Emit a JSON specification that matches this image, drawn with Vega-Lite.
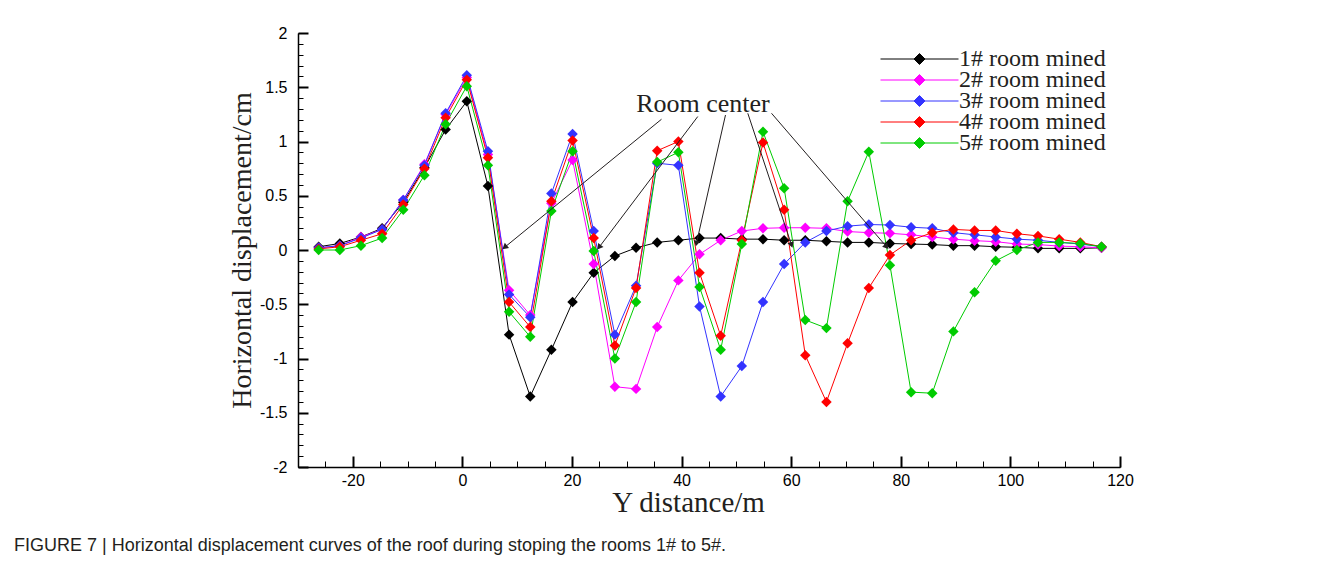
{
  "$schema": "https://vega.github.io/schema/vega-lite/v6.json",
  "width": 822,
  "height": 434,
  "autosize": {"type": "none"},
  "padding": {"left": 298, "top": 33, "right": 222, "bottom": 104},
  "background": "white",
  "config": {"view": {"stroke": null}},
  "title": {
    "text": "FIGURE 7 | Horizontal displacement curves of the roof during stoping the rooms 1# to 5#.",
    "orient": "bottom",
    "anchor": "start",
    "frame": "group",
    "dx": -284,
    "offset": 20,
    "font": "Liberation Sans",
    "fontSize": 18,
    "fontWeight": "normal",
    "color": "#231f20"
  },
  "datasets": {
    "curves": [
      {"x": -26.23, "1# room mined": 0.03, "2# room mined": 0.02, "3# room mined": 0.02, "4# room mined": 0.01, "5# room mined": 0.0},
      {"x": -22.37, "1# room mined": 0.06, "2# room mined": 0.04, "3# room mined": 0.04, "4# room mined": 0.03, "5# room mined": 0.0},
      {"x": -18.51, "1# room mined": 0.12, "2# room mined": 0.12, "3# room mined": 0.11, "4# room mined": 0.09, "5# room mined": 0.04},
      {"x": -14.65, "1# room mined": 0.2, "2# room mined": 0.19, "3# room mined": 0.19, "4# room mined": 0.15, "5# room mined": 0.11},
      {"x": -10.79, "1# room mined": 0.44, "2# room mined": 0.46, "3# room mined": 0.46, "4# room mined": 0.42, "5# room mined": 0.37},
      {"x": -6.93, "1# room mined": 0.76, "2# room mined": 0.79, "3# room mined": 0.78, "4# room mined": 0.75, "5# room mined": 0.69},
      {"x": -3.06, "1# room mined": 1.11, "2# room mined": 1.25, "3# room mined": 1.26, "4# room mined": 1.22, "5# room mined": 1.16},
      {"x": 0.8, "1# room mined": 1.37, "2# room mined": 1.59, "3# room mined": 1.61, "4# room mined": 1.57, "5# room mined": 1.51},
      {"x": 4.66, "1# room mined": 0.59, "2# room mined": 0.88, "3# room mined": 0.91, "4# room mined": 0.85, "5# room mined": 0.78},
      {"x": 8.52, "1# room mined": -0.78, "2# room mined": -0.37, "3# room mined": -0.41, "4# room mined": -0.48, "5# room mined": -0.57},
      {"x": 12.38, "1# room mined": -1.35, "2# room mined": -0.6, "3# room mined": -0.62, "4# room mined": -0.71, "5# room mined": -0.8},
      {"x": 16.24, "1# room mined": -0.92, "2# room mined": 0.43, "3# room mined": 0.52, "4# room mined": 0.45, "5# room mined": 0.36},
      {"x": 20.1, "1# room mined": -0.48, "2# room mined": 0.83, "3# room mined": 1.07, "4# room mined": 1.01, "5# room mined": 0.91},
      {"x": 23.96, "1# room mined": -0.21, "2# room mined": -0.13, "3# room mined": 0.175, "4# room mined": 0.11, "5# room mined": -0.01},
      {"x": 27.82, "1# room mined": -0.055, "2# room mined": -1.26, "3# room mined": -0.78, "4# room mined": -0.88, "5# room mined": -1.0},
      {"x": 31.69, "1# room mined": 0.02, "2# room mined": -1.28, "3# room mined": -0.33, "4# room mined": -0.35, "5# room mined": -0.48},
      {"x": 35.55, "1# room mined": 0.07, "2# room mined": -0.71, "3# room mined": 0.8, "4# room mined": 0.915, "5# room mined": 0.81},
      {"x": 39.41, "1# room mined": 0.09, "2# room mined": -0.28, "3# room mined": 0.78, "4# room mined": 1.0, "5# room mined": 0.9},
      {"x": 43.27, "1# room mined": 0.11, "2# room mined": -0.04, "3# room mined": -0.52, "4# room mined": -0.21, "5# room mined": -0.34},
      {"x": 47.13, "1# room mined": 0.11, "2# room mined": 0.09, "3# room mined": -1.35, "4# room mined": -0.79, "5# room mined": -0.92},
      {"x": 50.99, "1# room mined": 0.1, "2# room mined": 0.175, "3# room mined": -1.07, "4# room mined": 0.09, "5# room mined": 0.055},
      {"x": 54.85, "1# room mined": 0.1, "2# room mined": 0.2, "3# room mined": -0.48, "4# room mined": 0.99, "5# room mined": 1.09},
      {"x": 58.71, "1# room mined": 0.09, "2# room mined": 0.205, "3# room mined": -0.13, "4# room mined": 0.37, "5# room mined": 0.57},
      {"x": 62.57, "1# room mined": 0.09, "2# room mined": 0.205, "3# room mined": 0.07, "4# room mined": -0.97, "5# room mined": -0.645},
      {"x": 66.43, "1# room mined": 0.08, "2# room mined": 0.2, "3# room mined": 0.175, "4# room mined": -1.4, "5# room mined": -0.72},
      {"x": 70.29, "1# room mined": 0.07, "2# room mined": 0.17, "3# room mined": 0.22, "4# room mined": -0.86, "5# room mined": 0.45},
      {"x": 74.16, "1# room mined": 0.07, "2# room mined": 0.16, "3# room mined": 0.235, "4# room mined": -0.35, "5# room mined": 0.906},
      {"x": 78.02, "1# room mined": 0.06, "2# room mined": 0.154, "3# room mined": 0.23, "4# room mined": -0.046, "5# room mined": -0.14},
      {"x": 81.88, "1# room mined": 0.055, "2# room mined": 0.14, "3# room mined": 0.21, "4# room mined": 0.09, "5# room mined": -1.31},
      {"x": 85.74, "1# room mined": 0.05, "2# room mined": 0.12, "3# room mined": 0.2, "4# room mined": 0.16, "5# room mined": -1.32},
      {"x": 89.6, "1# room mined": 0.04, "2# room mined": 0.1, "3# room mined": 0.16, "4# room mined": 0.19, "5# room mined": -0.75},
      {"x": 93.46, "1# room mined": 0.04, "2# room mined": 0.086, "3# room mined": 0.14, "4# room mined": 0.18, "5# room mined": -0.39},
      {"x": 97.32, "1# room mined": 0.03, "2# room mined": 0.077, "3# room mined": 0.12, "4# room mined": 0.18, "5# room mined": -0.1},
      {"x": 101.18, "1# room mined": 0.025, "2# room mined": 0.055, "3# room mined": 0.1, "4# room mined": 0.15, "5# room mined": 0.0},
      {"x": 105.04, "1# room mined": 0.015, "2# room mined": 0.05, "3# room mined": 0.09, "4# room mined": 0.13, "5# room mined": 0.07},
      {"x": 108.9, "1# room mined": 0.015, "2# room mined": 0.036, "3# room mined": 0.07, "4# room mined": 0.1, "5# room mined": 0.07},
      {"x": 112.76, "1# room mined": 0.015, "2# room mined": 0.03, "3# room mined": 0.055, "4# room mined": 0.07, "5# room mined": 0.06},
      {"x": 116.63, "1# room mined": 0.02, "2# room mined": 0.02, "3# room mined": 0.03, "4# room mined": 0.03, "5# room mined": 0.03}
    ],
    "arrows": [
      {"id": 1, "x": 36.33, "y": 1.205, "x2": 7.71, "y2": 0.025},
      {"id": 2, "x": 42.95, "y": 1.23, "x2": 24.94, "y2": 0.025},
      {"id": 3, "x": 48.01, "y": 1.244, "x2": 42.7, "y2": 0.06},
      {"id": 4, "x": 52.08, "y": 1.26, "x2": 60.06, "y2": 0.046},
      {"id": 5, "x": 56.41, "y": 1.26, "x2": 77.4, "y2": 0.03}
    ],
    "notes": [
      {"x": 43.9, "y": 1.27, "text": "Room center"}
    ]
  },
  "resolve": {"scale": {"x": "independent", "y": "independent"}},
  "layer": [
    {
      "mark": {"type": "rule", "color": "#000000", "strokeWidth": 1.2},
      "encoding": {
        "y": {
          "datum": 0,
          "type": "quantitative",
          "scale": {"domain": [-2, 2], "nice": false, "zero": false},
          "axis": {
            "orient": "left",
            "values": [-2, -1.9, -1.8, -1.7, -1.6, -1.5, -1.4, -1.3, -1.2, -1.1, -1, -0.9, -0.8, -0.7, -0.6, -0.5, -0.4, -0.3, -0.2, -0.1, 0, 0.1, 0.2, 0.3, 0.4, 0.5, 0.6, 0.7, 0.8, 0.9, 1, 1.1, 1.2, 1.3, 1.4, 1.5, 1.6, 1.7, 1.8, 1.9, 2],
            "grid": false,
            "domain": false,
            "labels": false,
            "title": null,
            "tickColor": "#000000",
            "tickSize": -5,
            "tickWidth": 1
          }
        }
      }
    },
    {
      "mark": {"type": "rule", "color": "#666666", "strokeWidth": 1.2, "strokeDash": [10, 4, 2, 4]},
      "encoding": {
        "x": {
          "datum": 0,
          "type": "quantitative",
          "scale": {"domain": [-30, 120], "nice": false, "zero": false},
          "axis": {
            "orient": "bottom",
            "values": [-30, -25, -20, -15, -10, -5, 0, 5, 10, 15, 20, 25, 30, 35, 40, 45, 50, 55, 60, 65, 70, 75, 80, 85, 90, 95, 100, 105, 110, 115, 120],
            "grid": false,
            "domain": false,
            "labels": false,
            "title": null,
            "tickColor": "#000000",
            "tickSize": -6,
            "tickWidth": 1
          }
        }
      }
    },
    {
      "layer": [
        {
          "data": {"name": "curves"},
          "transform": [
            {"fold": ["1# room mined", "2# room mined", "3# room mined", "4# room mined", "5# room mined"], "as": ["series", "disp"]}
          ],
          "mark": {
            "type": "line",
            "strokeWidth": 1,
            "point": {"shape": "diamond", "filled": true, "size": 110, "strokeWidth": 0, "opacity": 1}
          },
          "encoding": {
            "x": {
              "field": "x",
              "type": "quantitative",
              "scale": {"domain": [-30, 120], "nice": false, "zero": false},
              "axis": {
                "orient": "bottom",
                "values": [-20, 0, 20, 40, 60, 80, 100, 120],
                "grid": false,
                "domainColor": "#000000",
                "domainWidth": 1.5,
                "tickColor": "#000000",
                "tickSize": -11,
                "tickWidth": 2,
                "labelExpr": "toString(datum.value)",
                "labelFont": "Liberation Sans",
                "labelFontSize": 16,
                "labelColor": "#000000",
                "labelPadding": 16,
                "labelOverlap": false,
                "labelFlush": false,
                "labelBound": false,
                "title": "Y distance/m",
                "titleFont": "Liberation Serif",
                "titleFontSize": 29,
                "titleFontWeight": "normal",
                "titleColor": "#231f20",
                "titleX": 390,
                "titlePadding": 0
              }
            },
            "y": {
              "field": "disp",
              "type": "quantitative",
              "scale": {"domain": [-2, 2], "nice": false, "zero": false},
              "axis": {
                "orient": "left",
                "values": [-2, -1.5, -1, -0.5, 0, 0.5, 1, 1.5, 2],
                "grid": false,
                "domainColor": "#000000",
                "domainWidth": 1.5,
                "tickColor": "#000000",
                "tickSize": -10,
                "tickWidth": 2,
                "labelExpr": "toString(datum.value)",
                "labelFont": "Liberation Sans",
                "labelFontSize": 16,
                "labelColor": "#000000",
                "labelPadding": 21,
                "labelOverlap": false,
                "labelFlush": false,
                "labelBound": false,
                "title": "Horizontal displacement/cm",
                "titleFont": "Liberation Serif",
                "titleFontSize": 28,
                "titleFontWeight": "normal",
                "titleColor": "#231f20",
                "titlePadding": 3
              }
            },
            "color": {
              "field": "series",
              "type": "nominal",
              "scale": {
                "domain": ["1# room mined", "2# room mined", "3# room mined", "4# room mined", "5# room mined"],
                "range": ["#000000", "#ff00ff", "#3333ff", "#ff0000", "#00cc00"]
              },
              "legend": {
                "orient": "none",
                "legendX": 582,
                "legendY": 17,
                "title": null,
                "symbolType": "M-1,0H1M0,-0.14L0.14,0L0,0.14L-0.14,0Z",
                "symbolSize": 6084,
                "symbolStrokeWidth": 1,
                "clipHeight": 18,
                "rowPadding": -4,
                "labelFont": "Liberation Serif",
                "labelFontSize": 24,
                "labelColor": "#231f20",
                "labelOffset": 0,
                "encode": {
                  "symbols": {
                    "update": {
                      "fill": {"scale": "color", "field": "value"},
                      "stroke": {"scale": "color", "field": "value"},
                      "opacity": {"value": 1}
                    }
                  }
                }
              }
            }
          }
        },
        {
          "data": {"name": "arrows"},
          "mark": {"type": "rule", "color": "#231f20", "strokeWidth": 1},
          "encoding": {
            "x": {"field": "x", "type": "quantitative"},
            "y": {"field": "y", "type": "quantitative"},
            "x2": {"field": "x2"},
            "y2": {"field": "y2"}
          }
        },
        {
          "data": {"name": "arrows"},
          "mark": {"type": "point", "shape": "triangle-up", "filled": true, "size": 45, "color": "#231f20", "opacity": 1},
          "encoding": {
            "x": {"field": "x2", "type": "quantitative"},
            "y": {"field": "y2", "type": "quantitative"},
            "angle": {
              "field": "id",
              "type": "quantitative",
              "scale": {"domain": [1, 2, 3, 4, 5], "range": [230.75, 217, 192.76, 161.65, 139.23]},
              "legend": null
            }
          }
        },
        {
          "data": {"name": "notes"},
          "mark": {"type": "text", "font": "Liberation Serif", "fontSize": 26, "color": "#231f20", "align": "center", "baseline": "alphabetic"},
          "encoding": {
            "x": {"field": "x", "type": "quantitative"},
            "y": {"field": "y", "type": "quantitative"},
            "text": {"field": "text"}
          }
        }
      ]
    }
  ]
}
